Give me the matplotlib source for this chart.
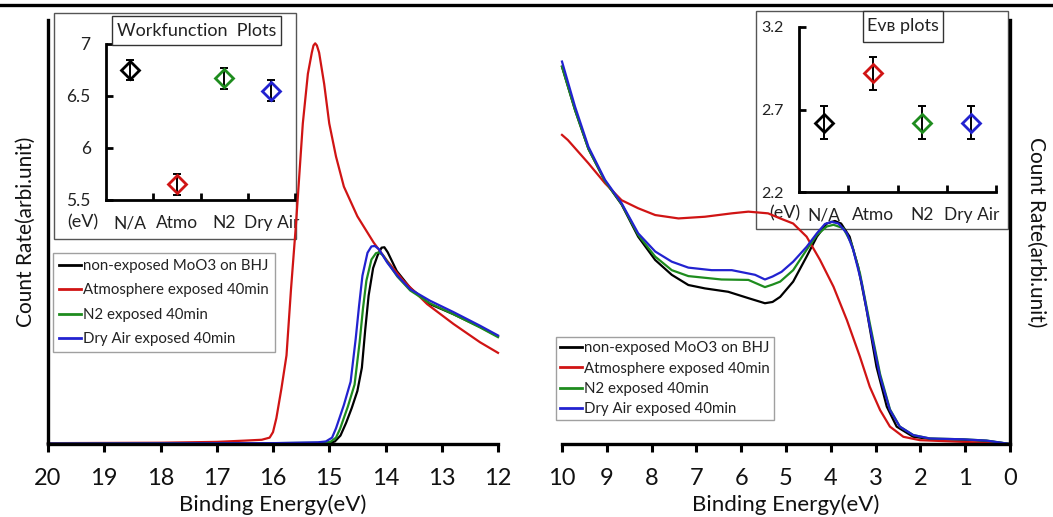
import matplotlib
matplotlib.use('Agg')
import matplotlib.pyplot as plt
from matplotlib.patches import Rectangle
from matplotlib.lines import Line2D

plt.rcParams['font.family'] = ['Lato', 'DejaVu Sans']

# ---------------- data ----------------
series_labels = ['non-exposed MoO3 on BHJ', 'Atmosphere exposed 40min',
                 'N2 exposed 40min', 'Dry Air exposed 40min']
series_colors = ['#000000', '#d01414', '#1e8c1e', '#2222d0']

# Left panel (secondary electron cut-off)
left_black_x = [20, 16, 15.0, 14.9, 14.8, 14.7, 14.6, 14.5, 14.42, 14.36, 14.30, 14.22, 14.14, 14.07, 14.02, 13.96, 13.88, 13.80, 13.56, 13.21, 12.79, 12.32, 12.0]
left_black_y = [0.1, 0.1, 0.2, 0.6, 2.0, 5.0, 8.5, 12.5, 18.0, 27.0, 35.0, 41.5, 44.5, 46.3, 46.4, 45.2, 43.0, 40.8, 36.8, 33.0, 30.6, 27.6, 25.4]
left_red_x = [20, 18, 17, 16.5, 16.2, 16.06, 16.0, 15.94, 15.85, 15.76, 15.68, 15.59, 15.47, 15.38, 15.31, 15.28, 15.25, 15.22, 15.18, 15.09, 15.0, 14.88, 14.74, 14.5, 14.21, 13.97, 13.68, 13.26, 12.79, 12.32, 12.0]
left_red_y = [0.2, 0.3, 0.5, 0.8, 1.0, 1.5, 2.8, 6.1, 13.1, 20.9, 36.5, 52.1, 75.6, 87.3, 92.3, 94.0, 94.5, 94.0, 92.3, 84.9, 75.6, 67.8, 60.7, 53.7, 47.5, 43.2, 38.5, 33.0, 28.3, 24.0, 21.5]
left_green_x = [20, 16, 15.1, 14.98, 14.88, 14.81, 14.67, 14.55, 14.46, 14.40, 14.34, 14.25, 14.17, 14.12, 14.05, 13.97, 13.79, 13.56, 13.21, 12.79, 12.32, 12.0]
left_green_y = [0.1, 0.2, 0.3, 0.5, 1.5, 3.5, 8.8, 14.0, 24.0, 32.0, 38.5, 43.5, 45.0, 45.2, 44.6, 43.0, 39.5, 36.2, 33.2, 30.6, 27.5, 25.2]
left_blue_x = [20, 16, 15.2, 15.06, 14.95, 14.88, 14.74, 14.62, 14.53, 14.47, 14.41, 14.32, 14.25, 14.19, 14.12, 14.05, 13.97, 13.79, 13.56, 13.21, 12.79, 12.32, 12.0]
left_blue_y = [0.1, 0.2, 0.4, 0.6, 1.5, 3.7, 9.2, 14.7, 24.8, 32.6, 39.7, 45.1, 46.6, 46.7, 46.0, 44.5, 42.8, 39.7, 36.5, 33.8, 31.1, 27.9, 25.6]

# Right panel (valence band)
right_black_x = [10, 9.71, 9.41, 9.04, 8.67, 8.30, 7.92, 7.55, 7.18, 6.81, 6.29, 5.84, 5.47, 5.30, 5.13, 4.84, 4.54, 4.31, 4.09, 3.91, 3.77, 3.58, 3.39, 3.20, 2.98, 2.75, 2.53, 2.16, 1.79, 1.04, 0.52, 0]
right_black_y = [89.0, 78.8, 69.6, 62.0, 56.5, 48.9, 43.4, 39.9, 37.5, 36.7, 35.9, 34.4, 33.2, 33.5, 34.7, 38.3, 44.2, 48.9, 52.0, 52.6, 52.0, 48.9, 41.8, 31.6, 18.2, 8.8, 4.1, 1.7, 1.2, 1.0, 0.7, 0]
right_red_x = [10, 9.87, 9.41, 9.04, 8.67, 8.30, 7.92, 7.40, 6.81, 6.21, 5.84, 5.40, 5.13, 4.84, 4.54, 4.24, 3.94, 3.64, 3.35, 3.13, 2.90, 2.68, 2.38, 2.01, 1.04, 0]
right_red_y = [72.9, 71.7, 66.2, 61.5, 57.5, 55.6, 54.0, 53.2, 53.6, 54.4, 54.8, 54.4, 53.2, 52.0, 48.9, 43.4, 37.1, 29.2, 20.6, 13.5, 8.0, 4.1, 1.7, 0.9, 0.5, 0]
right_green_x = [10, 9.71, 9.41, 9.04, 8.67, 8.30, 7.92, 7.55, 7.18, 6.44, 5.84, 5.47, 5.30, 5.13, 4.84, 4.54, 4.31, 4.09, 3.94, 3.72, 3.54, 3.35, 3.13, 2.90, 2.68, 2.46, 2.16, 1.79, 1.04, 0.52, 0]
right_green_y = [89.0, 78.8, 69.6, 62.0, 56.6, 49.3, 44.2, 41.0, 39.6, 38.8, 38.7, 37.0, 37.6, 38.3, 41.0, 45.8, 49.3, 51.3, 51.7, 50.9, 47.3, 40.3, 28.5, 16.5, 8.2, 4.1, 2.1, 1.3, 1.1, 0.8, 0]
right_blue_x = [10, 9.71, 9.41, 9.04, 8.67, 8.30, 7.92, 7.55, 7.18, 6.66, 6.21, 5.69, 5.47, 5.30, 5.10, 4.84, 4.54, 4.31, 4.13, 3.98, 3.83, 3.64, 3.50, 3.31, 3.13, 2.90, 2.68, 2.46, 2.16, 1.79, 1.04, 0.52, 0]
right_blue_y = [90.2, 79.6, 70.1, 62.3, 56.8, 49.7, 45.4, 43.0, 41.6, 41.0, 41.0, 39.9, 38.8, 39.5, 40.6, 43.0, 46.5, 49.7, 51.9, 52.4, 52.0, 49.7, 45.8, 37.9, 27.7, 15.9, 8.0, 4.1, 2.1, 1.3, 1.1, 0.8, 0]

# Insets
inset_categories = ['N/A', 'Atmo', 'N2', 'Dry Air']
workfunction_vals = [6.75, 5.65, 6.67, 6.55]
workfunction_errs = [0.1, 0.1, 0.1, 0.1]
evb_vals = [2.62, 2.92, 2.62, 2.62]
evb_errs = [0.1, 0.1, 0.1, 0.1]
wf_yticks = [5.5, 6, 6.5, 7]
wf_yticklabels = ['5.5', '6', '6.5', '7']
evb_yticks = [2.2, 2.7, 3.2]
evb_yticklabels = ['2.2', '2.7', '3.2']

left_xticks = [20, 19, 18, 17, 16, 15, 14, 13, 12]
right_xticks = [10, 9, 8, 7, 6, 5, 4, 3, 2, 1, 0]

# ---------------- figure ----------------
W, H = 1053, 517
fig = plt.figure(figsize=(W / 100, H / 100), dpi=100)


def fx(px):
    return px / W


def fy(py):
    return 1 - py / H


def frect(x0, y0, x1, y1):
    return [fx(x0), fy(y1), fx(x1) - fx(x0), fy(y0) - fy(y1)]


# top rule
fig.add_artist(Line2D([0, 1], [fy(5), fy(5)], transform=fig.transFigure,
                      color='black', lw=2.4, zorder=0))

# inset frames
for (x0, y0, x1, y1) in [(54, 13, 296, 239), (756, 11, 1008, 229)]:
    fig.add_artist(Rectangle((fx(x0), fy(y1)), fx(x1) - fx(x0), fy(y0) - fy(y1),
                             transform=fig.transFigure, facecolor='white',
                             edgecolor='#555555', lw=1.0, zorder=0.2))


def make_inset(rect, vals, errs, ylim, yticks, yticklabels, ytick_size):
    ax = fig.add_axes(rect, zorder=1)
    ax.patch.set_alpha(0)
    xs = list(range(1, len(inset_categories) + 1))
    for i, (v, e) in enumerate(zip(vals, errs)):
        ax.errorbar(xs[i], v, yerr=e, fmt='none', ecolor='black', elinewidth=1.4,
                    capsize=2.6, capthick=1.4, zorder=3)
        ax.plot(xs[i], v, marker='D', markersize=9, markerfacecolor='none',
                markeredgecolor=series_colors[i], markeredgewidth=2.0, zorder=4)
    ax.set_xlim(0.5, len(inset_categories) + 0.5)
    ax.set_ylim(*ylim)
    ax.set_xticks(xs)
    ax.set_xticklabels(inset_categories, fontsize=12.5, color='#222222')
    ax.set_xticks([1.5, 2.5, 3.5, 4.5], minor=True)
    ax.tick_params(axis='x', which='major', length=0, pad=11)
    ax.tick_params(axis='x', which='minor', direction='in', length=5, width=2)
    ax.set_yticks(yticks)
    ax.set_yticklabels(yticklabels, fontsize=ytick_size, color='#222222')
    ax.tick_params(axis='y', direction='in', length=5, width=2, pad=11)
    for s in ['top', 'right']:
        ax.spines[s].set_visible(False)
    for s in ['left', 'bottom']:
        ax.spines[s].set_linewidth(2.0)
    return ax


ax_wf = make_inset(frect(106, 44, 295, 200), workfunction_vals, workfunction_errs,
                   (5.5, 7.0), wf_yticks, wf_yticklabels, 12.5)
ax_evb = make_inset(frect(799, 27, 996, 192), evb_vals, evb_errs,
                    (2.2, 3.2), evb_yticks, evb_yticklabels, 11.5)

fig.text(fx(83), fy(222), '(eV)', fontsize=13, ha='center', va='center', color='#222222', zorder=2)
fig.text(fx(785), fy(213), '(eV)', fontsize=13, ha='center', va='center', color='#222222', zorder=2)

# title boxes
for (x0, y0, x1, y1, txt, fs) in [(112, 16, 281, 45, 'Workfunction  Plots', 13),
                                  (863, 11, 943, 42, 'E\u1d20\u0299 plots', 13)]:
    fig.add_artist(Rectangle((fx(x0), fy(y1)), fx(x1) - fx(x0), fy(y0) - fy(y1),
                             transform=fig.transFigure, facecolor='white',
                             edgecolor='#333333', lw=1.0, zorder=2))
    fig.text(fx((x0 + x1) / 2), fy((y0 + y1) / 2), txt, fontsize=fs, ha='center',
             va='center', color='#222222', zorder=2.5,
             family=['Lato', 'DejaVu Sans'])

# main axes
ax_l = fig.add_axes(frect(48, 20, 498, 444), zorder=5)
ax_r = fig.add_axes(frect(562, 20, 1010, 444), zorder=5)
for ax in (ax_l, ax_r):
    ax.patch.set_alpha(0)

left_data = [(left_black_x, left_black_y), (left_red_x, left_red_y),
             (left_green_x, left_green_y), (left_blue_x, left_blue_y)]
right_data = [(right_black_x, right_black_y), (right_red_x, right_red_y),
              (right_green_x, right_green_y), (right_blue_x, right_blue_y)]

for (xs, ys), c, lab in zip(left_data, series_colors, series_labels):
    ax_l.plot(xs, ys, color=c, lw=1.6, label=lab, clip_on=False)
for (xs, ys), c, lab in zip(right_data, series_colors, series_labels):
    ax_r.plot(xs, ys, color=c, lw=1.6, label=lab, clip_on=False)

ax_l.set_xlim(20, 12)
ax_r.set_xlim(10, 0)
for ax in (ax_l, ax_r):
    ax.set_ylim(0, 100)
    ax.set_yticks([])
    ax.spines['top'].set_visible(False)
    ax.spines['bottom'].set_linewidth(2.4)
    ax.tick_params(axis='x', direction='out', length=6, width=2.2, pad=11,
                   labelsize=17, labelcolor='#111111')
    ax.set_xlabel('Binding Energy(eV)', fontsize=16, color='#111111', labelpad=4)

ax_l.set_xticks(left_xticks)
ax_r.set_xticks(right_xticks)
ax_l.spines['right'].set_visible(False)
ax_l.spines['left'].set_linewidth(2.4)
ax_r.spines['left'].set_visible(False)
ax_r.spines['right'].set_linewidth(2.4)

ax_l.set_ylabel('Count Rate(arbi.unit)', fontsize=15, color='#111111', labelpad=9)
ax_r.yaxis.set_label_position('right')
ax_r.set_ylabel('Count Rate(arbi.unit)', fontsize=15, color='#111111',
                rotation=270, labelpad=26)

leg_kw = dict(fontsize=10.8, frameon=True, fancybox=False, handlelength=1.45,
              handletextpad=0.15, borderaxespad=0)
leg_l = ax_l.legend(loc='upper left', bbox_to_anchor=(fx(53), fy(253)),
                    bbox_transform=fig.transFigure, labelspacing=0.7,
                    borderpad=0.4, **leg_kw)
leg_r = ax_r.legend(loc='upper left', bbox_to_anchor=(fx(556), fy(337)),
                    bbox_transform=fig.transFigure, labelspacing=0.42,
                    borderpad=0.28, **leg_kw)
for leg in (leg_l, leg_r):
    leg.get_frame().set_edgecolor('#888888')
    leg.get_frame().set_linewidth(1.0)
    for line in leg.get_lines():
        line.set_linewidth(2.0)
    for t in leg.get_texts():
        t.set_color('#222222')

fig.savefig('out.png', dpi=100)
